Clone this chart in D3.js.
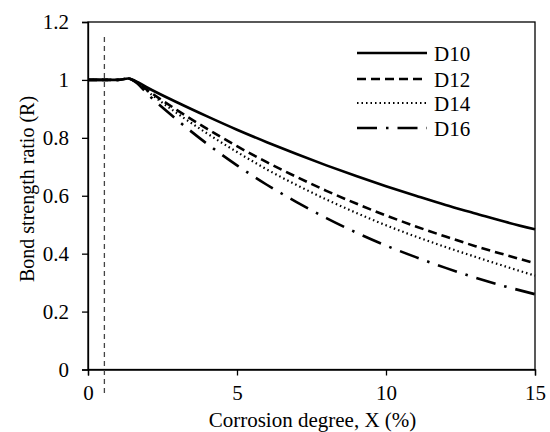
<!DOCTYPE html>
<html>
<head>
<meta charset="utf-8">
<script src="https://cdn.jsdelivr.net/npm/d3@7"></script>
<style>
  body { margin: 0; background: #fff; }
</style>
</head>
<body>
<div id="chart"></div>
<script>
// corrosion degree X (%)
const xs = [0, 1, 1.35, 1.6, 2, 3, 4, 5, 6, 7, 8, 9, 10, 11, 12, 13, 14, 15];
// bond strength ratio R per bar diameter
const d10 = [1, 1, 1.005, 0.996, 0.973, 0.922, 0.874, 0.828, 0.785, 0.744, 0.705, 0.668, 0.633, 0.600, 0.568, 0.539, 0.510, 0.484];
const d12 = [1, 1, 1.005, 0.994, 0.964, 0.895, 0.831, 0.771, 0.716, 0.665, 0.617, 0.573, 0.532, 0.494, 0.459, 0.426, 0.396, 0.367];
const d14 = [1, 1, 1.005, 0.993, 0.960, 0.884, 0.815, 0.751, 0.691, 0.637, 0.587, 0.541, 0.498, 0.459, 0.423, 0.389, 0.356, 0.324];
const d16 = [1, 1, 1.005, 0.992, 0.951, 0.861, 0.779, 0.705, 0.638, 0.578, 0.523, 0.473, 0.428, 0.388, 0.351, 0.317, 0.287, 0.260];
const seriesNames = ["D10", "D12", "D14", "D16"];
const xTicks = [0, 5, 10, 15];
const yTicks = [0, 0.2, 0.4, 0.6, 0.8, 1, 1.2];
const thresholdX = 0.55;

const w = 550, h = 432;
const padL = 88, padR = 535, padT = 22, padB = 369.5;
const serif = "'Times New Roman', 'Liberation Serif', Times, 'DejaVu Serif', serif";

const x = d3.scaleLinear().domain([0, 15]).range([padL, padR]);
const y = d3.scaleLinear().domain([0, 1.2]).range([padB, padT]);

const svg = d3.select("#chart").append("svg")
  .attr("width", w).attr("height", h)
  .attr("font-family", serif);

// frame
svg.append("rect")
  .attr("x", padL).attr("y", padT)
  .attr("width", padR - padL).attr("height", padB - padT)
  .attr("fill", "none").attr("stroke", "#000").attr("stroke-width", 1.3);

// axes
const xAxis = svg.append("g")
  .attr("transform", "translate(0," + padB + ")")
  .call(d3.axisBottom(x).tickValues(xTicks).tickSize(6).tickPadding(10).tickFormat(d3.format("d")));
const yAxis = svg.append("g")
  .attr("transform", "translate(" + padL + ",0)")
  .call(d3.axisLeft(y).tickValues(yTicks).tickSize(6).tickPadding(13).tickFormat(d => d3.format("~g")(d)));
[xAxis, yAxis].forEach(g => {
  g.attr("font-family", serif).attr("font-size", 21);
  g.select(".domain").attr("stroke", "#000").attr("stroke-width", 1.3);
  g.selectAll(".tick line").attr("stroke", "#000").attr("stroke-width", 1.3);
  g.selectAll(".tick text").attr("fill", "#000");
});

// threshold line
svg.append("line")
  .attr("x1", x(thresholdX)).attr("x2", x(thresholdX))
  .attr("y1", 37).attr("y2", 395)
  .attr("stroke", "#444").attr("stroke-width", 1.3)
  .attr("stroke-dasharray", "5,4");

// curves
const styles = [
  { dash: null, width: 2.6 },
  { dash: "9,5", width: 2.6 },
  { dash: "1.5,3", width: 2.2 },
  { dash: "20,9,2.5,9", width: 2.6 }
];
const allSeries = [d10, d12, d14, d16];

const line = d3.line()
  .x((d, i) => x(xs[i]))
  .y(d => y(d))
  .curve(d3.curveMonotoneX);

allSeries.forEach((s, i) => {
  svg.append("path")
    .datum(s)
    .attr("fill", "none")
    .attr("stroke", "#000")
    .attr("stroke-width", styles[i].width)
    .attr("stroke-dasharray", styles[i].dash)
    .attr("d", line);
});

// legend
const legendY = [53, 79, 103, 128];
seriesNames.forEach((name, i) => {
  svg.append("line")
    .attr("x1", 357).attr("x2", 427)
    .attr("y1", legendY[i]).attr("y2", legendY[i])
    .attr("stroke", "#000")
    .attr("stroke-width", styles[i].width)
    .attr("stroke-dasharray", styles[i].dash);
  svg.append("text")
    .attr("x", 434).attr("y", legendY[i] + 8)
    .attr("font-size", 21)
    .text(name);
});

// axis titles
svg.append("text")
  .attr("x", (padL + padR) / 2 + 1).attr("y", 427)
  .attr("text-anchor", "middle")
  .attr("font-size", 21)
  .text("Corrosion degree, X (%)");

svg.append("text")
  .attr("transform", "translate(34," + 189 + ") rotate(-90)")
  .attr("text-anchor", "middle")
  .attr("font-size", 20)
  .text("Bond strength ratio (R)");
</script>
</body>
</html>
